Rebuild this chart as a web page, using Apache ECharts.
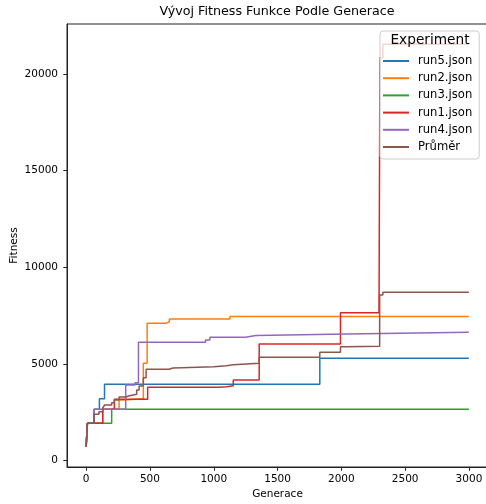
<!DOCTYPE html>
<html>
<head>
<meta charset="utf-8">
<script src="https://cdn.jsdelivr.net/npm/echarts@6/dist/echarts.min.js"></script>
<style>
html,body{margin:0;padding:0;background:#fff;}
#chart{width:486px;height:504px;}
</style>
</head>
<body>
<div id="chart"></div>
<script>
// ---- data (generation, fitness) ----
const seriesNames = ['run5.json', 'run2.json', 'run3.json', 'run1.json', 'run4.json', 'Průměr'];

const run5Gen = [0, 10, 62, 104, 144, 1831, 2999];
const run5Fit = [720, 1934, 2660, 3200, 3950, 5297, 5297];

const run2Gen = [0, 10, 130, 258, 300, 448, 478, 626, 652, 1127, 2999];
const run2Fit = [720, 1934, 2660, 3140, 3200, 5040, 7107, 7190, 7330, 7460, 7460];

const run3Gen = [0, 10, 200, 2999];
const run3Fit = [720, 1934, 2660, 2660];

const run1Gen = [0, 10, 130, 221, 482, 1035, 1100, 1153, 1356, 1993, 2295, 2302, 2325, 2999];
const run1Fit = [720, 1934, 2660, 3175, 3797, 3830, 3880, 4175, 6037, 7656, 7708, 20846, 21547, 21547];

const run4Gen = [0, 10, 62, 310, 383, 410, 935, 970, 1250, 1330, 2040, 2999];
const run4Fit = [720, 1934, 2660, 3916, 4035, 6124, 6243, 6383, 6480, 6550, 6640, 6640];

const meanGen = [0, 10, 62, 100, 130, 145, 200, 221, 258, 310, 340, 396, 415, 448, 470, 650, 680, 1000, 1100, 1153, 1356, 1831, 1993, 2040, 2300, 2325, 2999];
const meanFit = [724, 1934, 2400, 2535, 2726, 2880, 3000, 3140, 3295, 3360, 3435, 3657, 3864, 4293, 4728, 4795, 4862, 4914, 4960, 5038, 5350, 5607, 5900, 5920, 8571, 8711, 8711];

const xTicks = [0, 500, 1000, 1500, 2000, 2500, 3000];
const yTicks = [0, 5000, 10000, 15000, 20000];

const colors = ['#1f77b4', '#ff7f0e', '#2ca02c', '#d62728', '#9467bd', '#8c564b'];
const gens = [run5Gen, run2Gen, run3Gen, run1Gen, run4Gen, meanGen];
const fits = [run5Fit, run2Fit, run3Fit, run1Fit, run4Fit, meanFit];

const FONT = '"DejaVu Sans", "Liberation Sans", sans-serif';

const series = seriesNames.map((name, i) => ({
  name: name,
  type: 'line',
  step: 'end',
  showSymbol: false,
  symbol: 'none',
  color: colors[i],
  lineStyle: { width: 1.5, color: colors[i] },
  data: gens[i].map((g, k) => [g, fits[i][k]]),
  animation: false,
  clip: true
}));

const plainNum = v => String(Math.round(v));

const chart = echarts.init(document.getElementById('chart'), null, { renderer: 'canvas' });
chart.setOption({
  animation: false,
  backgroundColor: '#ffffff',
  grid: {
    left: 67, top: 24, width: 421, height: 443,
    containLabel: false,
    outerBoundsMode: 'none',
    show: true, borderColor: '#222', borderWidth: 1, backgroundColor: 'transparent'
  },
  xAxis: {
    type: 'value',
    min: -150, max: 3149,
    name: 'Generace',
    nameLocation: 'middle',
    nameGap: 22,
    nameMoveOverlap: false,
    nameTextStyle: { fontFamily: FONT, fontSize: 10.5, color: '#000' },
    axisLine: { show: true, onZero: false, lineStyle: { color: '#222', width: 1 } },
    splitLine: { show: false },
    axisTick: { show: true, customValues: xTicks, length: 3.7, lineStyle: { color: '#222', width: 1 } },
    axisLabel: { customValues: xTicks, formatter: plainNum, margin: 7, fontFamily: FONT, fontSize: 10.5, color: '#000' }
  },
  yAxis: {
    type: 'value',
    min: -326, max: 22590,
    name: 'Fitness',
    nameLocation: 'middle',
    nameGap: 47,
    nameMoveOverlap: false,
    nameTextStyle: { fontFamily: FONT, fontSize: 10.5, color: '#000' },
    axisLine: { show: true, onZero: false, lineStyle: { color: '#222', width: 1 } },
    splitLine: { show: false },
    axisTick: { show: true, customValues: yTicks, length: 3.7, lineStyle: { color: '#222', width: 1 } },
    axisLabel: { customValues: yTicks, formatter: plainNum, margin: 9, fontFamily: FONT, fontSize: 10.5, color: '#000' }
  },
  legend: {
    data: seriesNames,
    orient: 'vertical',
    left: 380, top: 31,
    padding: [23, 7, 5, 3],
    itemWidth: 26, itemHeight: 2,
    icon: 'rect',
    itemGap: 3.2,
    backgroundColor: 'rgba(255,255,255,0.8)',
    borderColor: '#cccccc', borderWidth: 1, borderRadius: 3,
    textStyle: { fontFamily: FONT, fontSize: 11.6, color: '#000', lineHeight: 14, padding: [0, 0, 0, 4] }
  },
  graphic: [
    { type: 'text', x: 277, y: 11.7, z: 100,
      style: { text: 'Vývoj Fitness Funkce Podle Generace', font: '12.7px ' + FONT, fill: '#000', align: 'center', verticalAlign: 'middle' } },
    { type: 'text', x: 430, y: 40.9, z: 100,
      style: { text: 'Experiment', font: '13.7px ' + FONT, fill: '#000', align: 'center', verticalAlign: 'middle' } }
  ],
  series: series
});
</script>
</body>
</html>
